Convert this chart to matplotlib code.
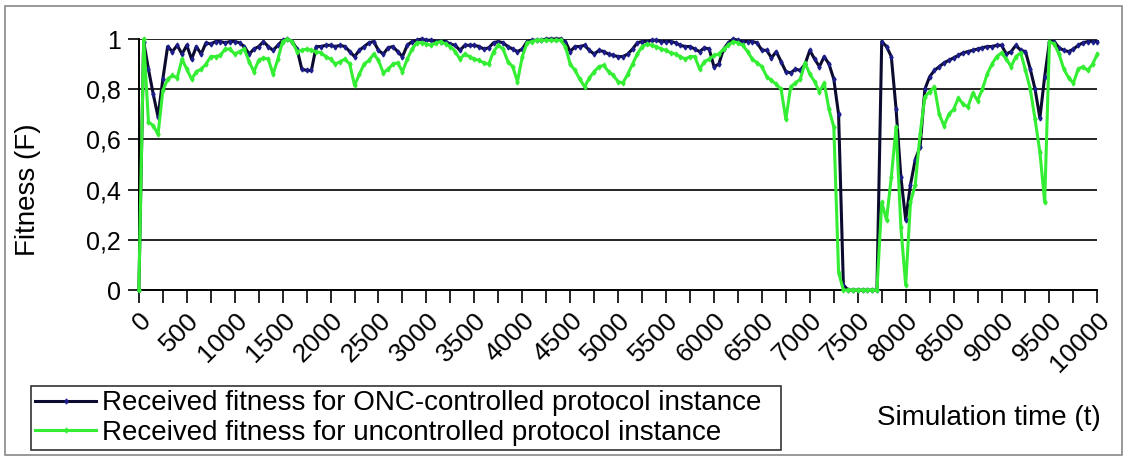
import numpy as np, matplotlib
matplotlib.use('Agg')
import matplotlib.pyplot as plt
from matplotlib.patches import Rectangle
from matplotlib.ticker import MultipleLocator

plt.rcParams.update({'font.family': ['Liberation Sans', 'DejaVu Sans'], 'font.size': 18})

NAVY_LINE = '#0b0b30'; NAVY_MK = '#1c1c8a'; GREEN = '#33ee33'

# simulation time, one sample every 50 steps
t = np.arange(0, 10001, 50)

onc = [
    0.00, 0.99, 0.88, 0.78, 0.69, 0.84, 0.97, 0.95, 0.975, 0.94,
    0.975, 0.92, 0.97, 0.94, 0.985, 0.98, 0.99, 0.99, 0.985, 0.99,
    0.99, 0.985, 0.97, 0.94, 0.96, 0.97, 0.99, 0.97, 0.955, 0.975,
    0.995, 1.00, 0.99, 0.96, 0.88, 0.875, 0.875, 0.97, 0.97, 0.975,
    0.975, 0.97, 0.975, 0.97, 0.95, 0.93, 0.955, 0.97, 0.985, 0.99,
    0.955, 0.94, 0.965, 0.97, 0.95, 0.93, 0.975, 0.99, 0.995, 1.00,
    0.995, 0.995, 0.99, 0.99, 0.99, 0.98, 0.975, 0.955, 0.975, 0.975,
    0.975, 0.97, 0.96, 0.965, 0.985, 0.99, 0.985, 0.97, 0.96, 0.95,
    0.96, 0.99, 0.995, 0.995, 0.995, 1.00, 1.00, 1.00, 1.00, 0.99,
    0.95, 0.97, 0.97, 0.975, 0.955, 0.94, 0.955, 0.95, 0.94, 0.935,
    0.93, 0.93, 0.94, 0.96, 0.985, 0.99, 0.99, 0.995, 0.995, 0.99,
    0.99, 0.99, 0.985, 0.975, 0.97, 0.97, 0.96, 0.95, 0.965, 0.96,
    0.89, 0.90, 0.96, 0.985, 1.00, 0.995, 0.99, 0.99, 0.99, 0.985,
    0.955, 0.955, 0.925, 0.95, 0.91, 0.87, 0.865, 0.88, 0.875, 0.90,
    0.955, 0.92, 0.89, 0.93, 0.90, 0.84, 0.70, 0.02, 0.00, 0.00,
    0.00, 0.00, 0.00, 0.00, 0.00, 0.99, 0.97, 0.93, 0.72, 0.45,
    0.28, 0.42, 0.52, 0.57, 0.80, 0.85, 0.875, 0.89, 0.905, 0.915,
    0.925, 0.935, 0.945, 0.95, 0.955, 0.96, 0.965, 0.97, 0.97, 0.975,
    0.975, 0.94, 0.95, 0.975, 0.955, 0.95, 0.88, 0.80, 0.685, 0.85,
    0.99, 0.99, 0.965, 0.955, 0.95, 0.96, 0.975, 0.985, 0.99, 0.99,
    0.99,
]

unctrl = [
    0.00, 1.00, 0.67, 0.655, 0.62, 0.795, 0.84, 0.855, 0.845, 0.92,
    0.88, 0.84, 0.87, 0.88, 0.90, 0.93, 0.93, 0.935, 0.96, 0.96,
    0.94, 0.95, 0.96, 0.91, 0.87, 0.915, 0.925, 0.92, 0.86, 0.92,
    0.99, 1.00, 0.99, 0.95, 0.955, 0.96, 0.955, 0.95, 0.945, 0.93,
    0.92, 0.90, 0.91, 0.92, 0.90, 0.815, 0.86, 0.90, 0.915, 0.94,
    0.915, 0.865, 0.88, 0.90, 0.905, 0.87, 0.92, 0.96, 0.985, 0.985,
    0.98, 0.975, 0.985, 0.99, 0.98, 0.97, 0.95, 0.92, 0.94, 0.93,
    0.92, 0.915, 0.905, 0.90, 0.95, 0.975, 0.96, 0.91, 0.89, 0.83,
    0.93, 0.985, 0.99, 0.995, 0.995, 0.995, 0.995, 0.995, 0.995, 0.97,
    0.90, 0.875, 0.84, 0.81, 0.845, 0.87, 0.89, 0.895, 0.87, 0.855,
    0.83, 0.825, 0.86, 0.90, 0.94, 0.97, 0.98, 0.975, 0.97, 0.96,
    0.955, 0.945, 0.94, 0.93, 0.92, 0.93, 0.93, 0.88, 0.91, 0.92,
    0.935, 0.94, 0.96, 0.975, 0.99, 0.985, 0.975, 0.95, 0.92, 0.905,
    0.89, 0.85, 0.835, 0.82, 0.80, 0.68, 0.81, 0.825, 0.84, 0.905,
    0.86, 0.83, 0.79, 0.825, 0.72, 0.65, 0.07, 0.00, 0.00, 0.00,
    0.00, 0.00, 0.00, 0.00, 0.00, 0.35, 0.28, 0.45, 0.65, 0.25,
    0.02, 0.35, 0.42, 0.62, 0.77, 0.79, 0.81, 0.70, 0.655, 0.70,
    0.72, 0.765, 0.74, 0.73, 0.785, 0.755, 0.80, 0.86, 0.90, 0.93,
    0.945, 0.92, 0.89, 0.93, 0.945, 0.875, 0.80, 0.68, 0.55, 0.35,
    0.99, 0.98, 0.94, 0.88, 0.845, 0.825, 0.88, 0.89, 0.875, 0.90,
    0.94,
]

y_ticks = [0, 0.2, 0.4, 0.6, 0.8, 1.0]
y_labels = ['0', '0,2', '0,4', '0,6', '0,8', '1']
x_labels = np.arange(0, 10001, 500)

fig = plt.figure(figsize=(11.29, 4.59), dpi=100)
ax = fig.add_axes([0.123, 0.368, 0.849, 0.547])

ax.plot(t, onc, color=NAVY_LINE, lw=2.2, marker='d', ms=2.5, mfc=NAVY_MK, mec=NAVY_MK,
        clip_on=False, zorder=3, label='Received fitness for ONC-controlled protocol instance')
ax.plot(t, unctrl, color=GREEN, lw=2.2, marker='d', ms=2.5, mfc=GREEN, mec=GREEN,
        clip_on=False, zorder=4, label='Received fitness for uncontrolled protocol instance')

ax.set_xlim(0, 10000); ax.set_ylim(0, 1)
ax.set_yticks(y_ticks); ax.set_yticklabels(y_labels)
ax.set_xticks(x_labels)
ax.set_xticklabels([str(v) for v in x_labels], rotation=45, ha='right', va='top',
                   rotation_mode='anchor', fontsize=19)
ax.xaxis.set_minor_locator(MultipleLocator(250))
ax.tick_params(axis='x', which='both', direction='out', length=9, width=1.2, color='black', pad=4)
ax.tick_params(axis='y', direction='out', length=8, width=1.2, pad=5)
ax.grid(axis='y', color='black', lw=1.2)
ax.set_axisbelow(True)
for s in ['top', 'right']:
    ax.spines[s].set_visible(False)
for s in ['left', 'bottom']:
    ax.spines[s].set_linewidth(1.4)
ax.set_facecolor('white')
ax.set_ylabel('Fitness (F)', fontsize=20)
ax.yaxis.set_label_coords(-0.102, 0.4)

leg = fig.legend(loc='lower left', bbox_to_anchor=(0.0275, 0.02, 0.664, 0.146), mode='expand',
                 frameon=True, fancybox=False, edgecolor='black', fontsize=20,
                 handlelength=2.2, handletextpad=0.2, borderaxespad=0, borderpad=0.15,
                 labelspacing=0.12, markerscale=1.0)
leg.get_frame().set_linewidth(1.2)

fig.text(0.975, 0.09, 'Simulation time (t)', ha='right', va='center', fontsize=20)

fig.patches.append(Rectangle((0.004, 0.008), 0.99, 0.98, transform=fig.transFigure,
                             fill=False, edgecolor='#888888', lw=1.2))

plt.savefig('out.png', dpi=100)
